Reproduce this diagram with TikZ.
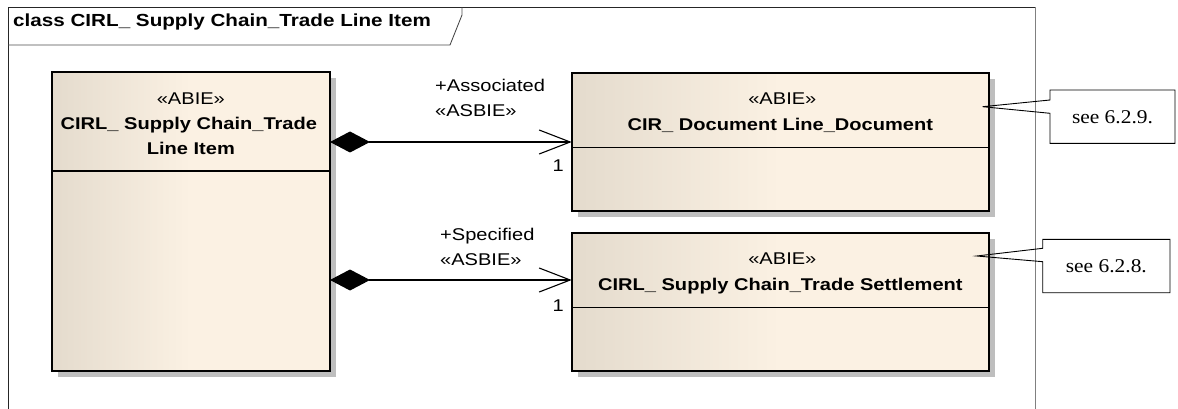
\documentclass[tikz,border=0pt]{standalone}
\usepackage{fontspec}
\setmainfont{Liberation Sans}[FakeStretch=1.18]
\newfontfamily\notefont{Liberation Serif}[FakeStretch=1.1]
\usetikzlibrary{arrows.meta, calc, positioning, shadows}
\definecolor{clsL}{HTML}{E4DBCD}
\definecolor{clsR}{HTML}{FBF1E3}
\definecolor{shadowgray}{HTML}{BEBEBE}
\definecolor{framegray}{HTML}{808080}

\begin{document}
\begin{tikzpicture}[x=1pt,y=-1pt,font=\fontsize{17}{19}\selectfont,
	>={Straight Barb[length=31pt,width=24pt]}]
	\tikzset{
		classbox/.style={draw, line width=1.7pt, outer sep=0pt, inner sep=0pt, anchor=north west,
			left color=clsL, right color=clsR, middle color=clsR,
			drop shadow={shadow xshift=6pt, shadow yshift=-6pt, fill=shadowgray, opacity=1}},
		stereo/.style={anchor=base, inner sep=0pt},
		clsname/.style={anchor=base, inner sep=0pt, font=\fontsize{17}{19}\selectfont\bfseries},
		rolelabel/.style={anchor=base west, inner sep=0pt},
		mult/.style={anchor=base east, inner sep=0pt},
		composite/.style={{Diamond[length=40pt,width=21pt]}->, line width=1.1pt},
		notebox/.style={minimum height=53.4pt, inner sep=0pt, outer sep=0pt, font=\notefont\fontsize{19.5}{21}\selectfont},
		noteline/.style={line width=0.9pt}
	}
	\useasboundingbox (0,0) rectangle (1178,409);

	% frame
	\draw[framegray, line width=1pt] (1035,7.3) -- (1035,409);
	\draw[black!85, line width=1pt] (8,409) -- (8,7.3) -- (1035,7.3);
	\draw[black!70, line width=0.9pt] (8,45) -- (450,45) -- (462,15) -- (462,7.3);
	\node[anchor=base west, inner sep=0pt, font=\fontsize{17.5}{19}\selectfont\bfseries] (title) at (13,26.7) {class CIRL\_ Supply Chain\_Trade Line Item};

	% classes
	\node[classbox, minimum width=278.3pt, minimum height=299pt] (item) at (51.7,71.7) {};
	\node[classbox, minimum width=417.3pt, minimum height=137.4pt] (doc) at (571.7,73.3) {};
	\node[classbox, minimum width=417.3pt, minimum height=137.4pt] (settle) at (571.7,233.3) {};
	\draw[line width=1.2pt] (item.west |- 0,171) -- (item.east |- 0,171);
	\draw[line width=1.2pt] (doc.west |- 0,147.3) -- (doc.east |- 0,147.3);
	\draw[line width=1.2pt] (settle.west |- 0,307.3) -- (settle.east |- 0,307.3);

	\node[stereo] (itemst) at ($(item.north)+(0,32.6)$) {«ABIE»};
	\node[clsname] (itemnm) at ($(item.north)+(-2,57.6)$) {CIRL\_ Supply Chain\_Trade};
	\node[clsname] (itemnm2) at ($(item.north)+(0,83.3)$) {Line Item};
	\node[stereo] (docst) at ($(doc.north)+(2,31.5)$) {«ABIE»};
	\node[clsname] (docnm) at ($(doc.north)+(0,57.5)$) {CIR\_ Document Line\_Document};
	\node[stereo] (settlest) at ($(settle.north)+(2,31.5)$) {«ABIE»};
	\node[clsname] (settlenm) at ($(settle.north)+(0,57.5)$) {CIRL\_ Supply Chain\_Trade Settlement};

	% associations
	\coordinate (settlein) at (settle.west |- 0,280);
	\draw[composite] (item.east |- doc.west) -- (doc.west);
	\draw[composite] (item.east |- settlein) -- (settlein);
	\node[rolelabel] (assocrole) at (435,91.7) {+Associated};
	\node[rolelabel] (assocst) at (435,116.7) {«ASBIE»};
	\node[mult] (assocmult) at (564,171.7) {1};
	\node[rolelabel] (specrole) at (440,240) {+Specified};
	\node[rolelabel] (specst) at (440,265) {«ASBIE»};
	\node[mult] (specmult) at (564,311.7) {1};

	% notes
	\node[notebox, minimum width=125pt] (note1) at (1112.5,116.7) {see 6.2.9.};
	\node[notebox, minimum width=127.3pt] (note2) at (1106.35,266) {see 6.2.8.};
	\coordinate (doctip) at ($(doc.north east)+(-6.3,33.4)$);
	\coordinate (settletip) at ($(settle.north east)+(-12.3,22.7)$);
	\draw[noteline] (note1.west |- 0,100) -- (note1.north west) -- (note1.north east) -- (note1.south east)
		-- (note1.south west) -- (note1.west |- 0,113.3) -- (doctip) -- cycle;
	\draw[noteline] (note2.west |- 0,248.3) -- (note2.north west) -- (note2.north east) -- (note2.south east)
		-- (note2.south west) -- (note2.west |- 0,261.7) -- (settletip) -- cycle;
\end{tikzpicture}
\end{document}
